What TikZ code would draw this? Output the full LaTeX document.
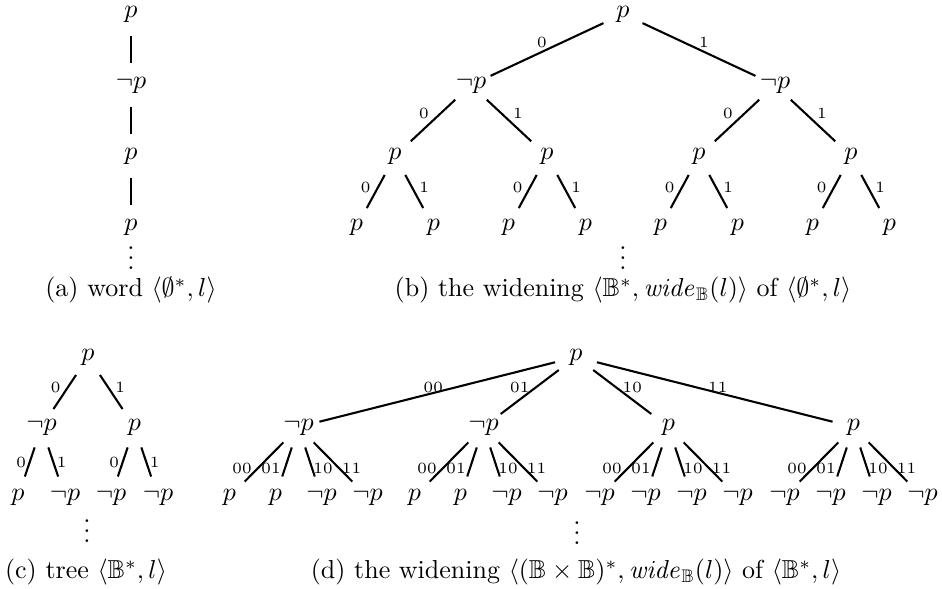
\documentclass[tikz,border=0pt]{standalone}
\usepackage{amssymb}
\newcommand\myvdots{\vbox{\baselineskip4pt \lineskiplimit0pt \hbox{.}\hbox{.}\hbox{.}}}
\begin{document}
\begin{tikzpicture}[x=0.3846pt,y=-0.3846pt,
  tn/.style={inner sep=0.5pt},
  ed/.style={line width=0.8pt,shorten <=8.3pt,shorten >=8.3pt},
  lb/.style={font=\fontsize{6}{7}\selectfont,inner sep=0pt},
  vd/.style={anchor=base,inner sep=0pt},
  capn/.style={anchor=base,inner sep=0pt}]
\useasboundingbox (0,0) rectangle (942,589);

% ---------- (a) ----------
\node[tn] (a0) at (131,14) {$p$};
\node[tn] (a1) at (131,85) {$\neg p$};
\node[tn] (a2) at (131,156) {$p$};
\node[tn] (a3) at (131,227) {$p$};
\draw[ed] (a0.center) -- (a1.center);
\draw[ed] (a1.center) -- (a2.center);
\draw[ed] (a2.center) -- (a3.center);
\node[vd] (adots) at (131,270) {\myvdots};
\node[capn] (acap) at (131,297) {(a) word $\langle\emptyset^*,l\rangle$};

% ---------- (b) ----------
\node[tn] (b0) at (623,14) {$p$};
\node[tn] (b1) at (471,85) {$\neg p$};
\node[tn] (b2) at (775,85) {$\neg p$};
\node[tn] (b11) at (395,156) {$p$};
\node[tn] (b12) at (547,156) {$p$};
\node[tn] (b21) at (699,156) {$p$};
\node[tn] (b22) at (851,156) {$p$};
\node[tn] (b111) at (356.5,227) {$p$};
\node[tn] (b112) at (433.5,227) {$p$};
\node[tn] (b121) at (508.5,227) {$p$};
\node[tn] (b122) at (585.5,227) {$p$};
\node[tn] (b211) at (660.5,227) {$p$};
\node[tn] (b212) at (737.5,227) {$p$};
\node[tn] (b221) at (812.5,227) {$p$};
\node[tn] (b222) at (889.5,227) {$p$};
\draw[ed] (b0.center) -- node[lb,shift={(-5,-7.5)}] {0} (b1.center);
\draw[ed] (b0.center) -- node[lb,shift={(5,-7.5)}] {1} (b2.center);
\draw[ed] (b1.center) -- node[lb,shift={(-9,-7.5)}] {0} (b11.center);
\draw[ed] (b1.center) -- node[lb,shift={(9,-7.5)}] {1} (b12.center);
\draw[ed] (b2.center) -- node[lb,shift={(-9,-7.5)}] {0} (b21.center);
\draw[ed] (b2.center) -- node[lb,shift={(9,-7.5)}] {1} (b22.center);
\draw[ed] (b11.center) -- node[lb,shift={(-10,-4.5)}] {0} (b111.center);
\draw[ed] (b11.center) -- node[lb,shift={(10,-4.5)}] {1} (b112.center);
\draw[ed] (b12.center) -- node[lb,shift={(-10,-4.5)}] {0} (b121.center);
\draw[ed] (b12.center) -- node[lb,shift={(10,-4.5)}] {1} (b122.center);
\draw[ed] (b21.center) -- node[lb,shift={(-10,-4.5)}] {0} (b211.center);
\draw[ed] (b21.center) -- node[lb,shift={(10,-4.5)}] {1} (b212.center);
\draw[ed] (b22.center) -- node[lb,shift={(-10,-4.5)}] {0} (b221.center);
\draw[ed] (b22.center) -- node[lb,shift={(10,-4.5)}] {1} (b222.center);
\node[vd] (bdots) at (623,270) {\myvdots};
\node[capn] (bcap) at (623,297) {(b) the widening $\langle\mathbb{B}^*,\mathit{wide}_{\mathbb{B}}(l)\rangle$ of $\langle\emptyset^*,l\rangle$};

% ---------- (c) ----------
\node[tn] (c0) at (88,357) {$p$};
\node[tn] (c1) at (41.5,427) {$\neg p$};
\node[tn] (c2) at (134.5,427) {$p$};
\node[tn] (c11) at (18,497) {$p$};
\node[tn] (c12) at (65,497) {$\neg p$};
\node[tn] (c21) at (111,497) {$\neg p$};
\node[tn] (c22) at (158,497) {$\neg p$};
\draw[ed] (c0.center) -- node[lb,shift={(-9,-5)}] {0} (c1.center);
\draw[ed] (c0.center) -- node[lb,shift={(9,-5)}] {1} (c2.center);
\draw[ed] (c1.center) -- node[lb,shift={(-8.5,0)}] {0} (c11.center);
\draw[ed] (c1.center) -- node[lb,shift={(8.5,0)}] {1} (c12.center);
\draw[ed] (c2.center) -- node[lb,shift={(-8.5,0)}] {0} (c21.center);
\draw[ed] (c2.center) -- node[lb,shift={(8.5,0)}] {1} (c22.center);
\node[vd] (cdots) at (87,543) {\myvdots};
\node[capn] (ccap) at (86,579) {(c) tree $\langle\mathbb{B}^*,l\rangle$};

% ---------- (d) ----------
\node[tn] (d0) at (576,357) {$p$};
\node[tn] (d1) at (298.5,427) {$\neg p$};
\node[tn] (d2) at (483.5,427) {$\neg p$};
\node[tn] (d3) at (668.5,427) {$p$};
\node[tn] (d4) at (853.5,427) {$p$};
\draw[ed] (d0.center) -- node[lb,shift={(-4,-5)}] {00} (d1.center);
\draw[ed] (d0.center) -- node[lb,shift={(-10,-5)}] {01} (d2.center);
\draw[ed] (d0.center) -- node[lb,shift={(10,-5)}] {10} (d3.center);
\draw[ed] (d0.center) -- node[lb,shift={(3,-5)}] {11} (d4.center);
% leaves
\node[tn] (d11) at (229.5,497) {$p$};
\node[tn] (d12) at (275.5,497) {$p$};
\node[tn] (d13) at (321.5,497) {$\neg p$};
\node[tn] (d14) at (367.5,497) {$\neg p$};
\node[tn] (d21) at (414.5,497) {$p$};
\node[tn] (d22) at (460.5,497) {$p$};
\node[tn] (d23) at (506.5,497) {$\neg p$};
\node[tn] (d24) at (552.5,497) {$\neg p$};
\node[tn] (d31) at (599.5,497) {$\neg p$};
\node[tn] (d32) at (645.5,497) {$\neg p$};
\node[tn] (d33) at (691.5,497) {$\neg p$};
\node[tn] (d34) at (737.5,497) {$\neg p$};
\node[tn] (d41) at (784.5,497) {$\neg p$};
\node[tn] (d42) at (830.5,497) {$\neg p$};
\node[tn] (d43) at (876.5,497) {$\neg p$};
\node[tn] (d44) at (922.5,497) {$\neg p$};
\foreach \g in {1,2,3,4}{
  \draw[ed] (d\g.center) -- node[lb,shift={(-22,6)}] {00} (d\g1.center);
  \draw[ed] (d\g.center) -- node[lb,shift={(-16,6)}] {01} (d\g2.center);
  \draw[ed] (d\g.center) -- node[lb,shift={(13,6)}] {10} (d\g3.center);
  \draw[ed] (d\g.center) -- node[lb,shift={(18.5,6)}] {11} (d\g4.center);
}
\node[vd] (ddots) at (577,545) {\myvdots};
\node[capn] (dcap) at (576,579) {(d) the widening $\langle(\mathbb{B}\times\mathbb{B})^*,\mathit{wide}_{\mathbb{B}}(l)\rangle$ of $\langle\mathbb{B}^*,l\rangle$};
\end{tikzpicture}
\end{document}
